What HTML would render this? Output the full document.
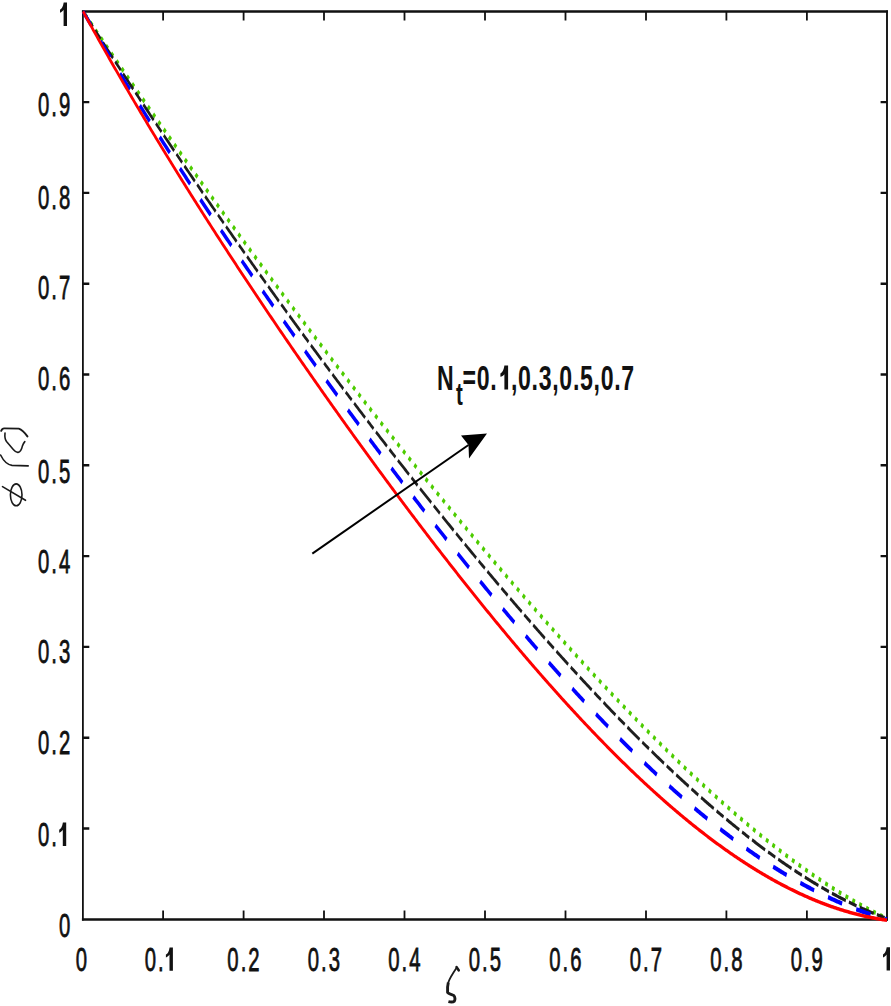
<!DOCTYPE html>
<html><head><meta charset="utf-8"><style>
html,body{margin:0;padding:0;background:#fff;width:891px;height:1006px;overflow:hidden}
svg{display:block}
text{font-family:"Liberation Sans",sans-serif;font-weight:normal;fill:#111}
.b text{font-weight:bold}
.t text{stroke:#111;stroke-width:0.8px}
.lab{font-family:"Liberation Serif",serif;font-style:italic;font-weight:normal}
</style></head><body>
<svg width="891" height="1006" viewBox="0 0 891 1006">
<rect width="891" height="1006" fill="#fff"/>
<g fill="none" stroke="#111" stroke-width="2">
<path d="M81.9 11.6H888M81.9 919.4H888" stroke-width="2.5"/>
<path d="M82.9 10.4V920.6" stroke-width="1.8"/>
<path d="M887 10.4V920.6" stroke-width="1.9"/>
<path d="M163.1 919.4V910.5M163.1 11.6V20.4M243.6 919.4V910.5M243.6 11.6V20.4M324.0 919.4V910.5M324.0 11.6V20.4M404.5 919.4V910.5M404.5 11.6V20.4M485.0 919.4V910.5M485.0 11.6V20.4M565.5 919.4V910.5M565.5 11.6V20.4M646.0 919.4V910.5M646.0 11.6V20.4M726.4 919.4V910.5M726.4 11.6V20.4M806.9 919.4V910.5M806.9 11.6V20.4" stroke-width="1.8"/>
<path d="M82.9 828.5H89.3M887 828.5H880.6M82.9 737.7H89.3M887 737.7H880.6M82.9 646.9H89.3M887 646.9H880.6M82.9 556.1H89.3M887 556.1H880.6M82.9 465.3H89.3M887 465.3H880.6M82.9 374.5H89.3M887 374.5H880.6M82.9 283.7H89.3M887 283.7H880.6M82.9 192.9H89.3M887 192.9H880.6M82.9 102.1H89.3M887 102.1H880.6" stroke-width="2.4"/>
</g>
<g fill="none" stroke-linejoin="round" transform="translate(83,0) scale(0.68,1)">
<path d="M0.00 11.40 L1.47 12.89 L2.94 14.37 L4.41 15.86 L5.88 17.35 L7.35 18.83 L8.82 20.32 L10.29 21.80 L11.76 23.28 L13.24 24.77 L14.71 26.25 L16.18 27.73 L17.65 29.21 L19.12 30.69 L20.59 32.17 L22.06 33.64 L23.53 35.12 L25.00 36.60 L26.47 38.07 L27.94 39.55 L29.41 41.02 L30.88 42.50 L32.35 43.97 L33.82 45.44 L35.29 46.91 L36.76 48.39 L38.24 49.86 L39.71 51.33 L41.18 52.79 L42.65 54.26 L44.12 55.73 L45.59 57.20 L47.06 58.66 L48.53 60.13 L50.00 61.59 L51.47 63.05 L52.94 64.52 L54.41 65.98 L55.88 67.44 L57.35 68.90 L58.82 70.36 L60.29 71.82 L61.76 73.28 L63.24 74.74 L64.71 76.19 L66.18 77.65 L67.65 79.11 L69.12 80.56 L70.59 82.02 L72.06 83.47 L73.53 84.92 L75.00 86.37 L76.47 87.82 L77.94 89.28 L79.41 90.73 L80.88 92.17 L82.35 93.62 L83.82 95.07 L85.29 96.52 L86.76 97.96 L88.24 99.41 L89.71 100.85 L91.18 102.30 L92.65 103.74 L94.12 105.18 L95.59 106.63 L97.06 108.07 L98.53 109.51 L100.00 110.95 L101.47 112.39 L102.94 113.82 L104.41 115.26 L105.88 116.70 L107.35 118.13 L108.82 119.57 L110.29 121.00 L111.76 122.44 L113.24 123.87 L114.71 125.30 L116.18 126.73 L117.65 128.17 L119.12 129.60 L120.59 131.02 L122.06 132.45 L123.53 133.88 L125.00 135.31 L126.47 136.74 L127.94 138.16 L129.41 139.59 L130.88 141.01 L132.35 142.43 L133.82 143.86 L135.29 145.28 L136.76 146.70 L138.24 148.12 L139.71 149.54 L141.18 150.96 L142.65 152.38 L144.12 153.80 L145.59 155.21 L147.06 156.63 L148.53 158.05 L150.00 159.46 L151.47 160.87 L152.94 162.29 L154.41 163.70 L155.88 165.11 L157.35 166.52 L158.82 167.93 L160.29 169.34 L161.76 170.75 L163.24 172.16 L164.71 173.57 L166.18 174.98 L167.65 176.38 L169.12 177.79 L170.59 179.19 L172.06 180.60 L173.53 182.00 L175.00 183.40 L176.47 184.80 L177.94 186.20 L179.41 187.60 L180.88 189.00 L182.35 190.40 L183.82 191.80 L185.29 193.20 L186.76 194.60 L188.24 195.99 L189.71 197.39 L191.18 198.78 L192.65 200.17 L194.12 201.57 L195.59 202.96 L197.06 204.35 L198.53 205.74 L200.00 207.13 L201.47 208.52 L202.94 209.91 L204.41 211.30 L205.88 212.69 L207.35 214.07 L208.82 215.46 L210.29 216.84 L211.76 218.23 L213.24 219.61 L214.71 220.99 L216.18 222.38 L217.65 223.76 L219.12 225.14 L220.59 226.52 L222.06 227.90 L223.53 229.28 L225.00 230.65 L226.47 232.03 L227.94 233.41 L229.41 234.78 L230.88 236.16 L232.35 237.53 L233.82 238.90 L235.29 240.28 L236.76 241.65 L238.24 243.02 L239.71 244.39 L241.18 245.76 L242.65 247.13 L244.12 248.50 L245.59 249.87 L247.06 251.23 L248.53 252.60 L250.00 253.97 L251.47 255.33 L252.94 256.69 L254.41 258.06 L255.88 259.42 L257.35 260.78 L258.82 262.14 L260.29 263.50 L261.76 264.86 L263.24 266.22 L264.71 267.58 L266.18 268.94 L267.65 270.29 L269.12 271.65 L270.59 273.01 L272.06 274.36 L273.53 275.71 L275.00 277.07 L276.47 278.42 L277.94 279.77 L279.41 281.12 L280.88 282.47 L282.35 283.82 L283.82 285.17 L285.29 286.52 L286.76 287.87 L288.24 289.21 L289.71 290.56 L291.18 291.91 L292.65 293.25 L294.12 294.59 L295.59 295.94 L297.06 297.28 L298.53 298.62 L300.00 299.96 L301.47 301.30 L302.94 302.64 L304.41 303.98 L305.88 305.32 L307.35 306.66 L308.82 307.99 L310.29 309.33 L311.76 310.66 L313.24 312.00 L314.71 313.33 L316.18 314.66 L317.65 316.00 L319.12 317.33 L320.59 318.66 L322.06 319.99 L323.53 321.32 L325.00 322.65 L326.47 323.97 L327.94 325.30 L329.41 326.63 L330.88 327.95 L332.35 329.28 L333.82 330.60 L335.29 331.93 L336.76 333.25 L338.24 334.57 L339.71 335.89 L341.18 337.21 L342.65 338.53 L344.12 339.85 L345.59 341.17 L347.06 342.49 L348.53 343.81 L350.00 345.12 L351.47 346.44 L352.94 347.75 L354.41 349.07 L355.88 350.38 L357.35 351.69 L358.82 353.01 L360.29 354.32 L361.76 355.63 L363.24 356.94 L364.71 358.25 L366.18 359.56 L367.65 360.86 L369.12 362.17 L370.59 363.48 L372.06 364.78 L373.53 366.09 L375.00 367.39 L376.47 368.69 L377.94 370.00 L379.41 371.30 L380.88 372.60 L382.35 373.90 L383.82 375.20 L385.29 376.50 L386.76 377.80 L388.24 379.09 L389.71 380.39 L391.18 381.69 L392.65 382.98 L394.12 384.28 L395.59 385.57 L397.06 386.86 L398.53 388.16 L400.00 389.45 L401.47 390.74 L402.94 392.03 L404.41 393.32 L405.88 394.61 L407.35 395.89 L408.82 397.18 L410.29 398.47 L411.76 399.75 L413.24 401.04 L414.71 402.32 L416.18 403.61 L417.65 404.89 L419.12 406.17 L420.59 407.45 L422.06 408.73 L423.53 410.01 L425.00 411.29 L426.47 412.57 L427.94 413.85 L429.41 415.13 L430.88 416.40 L432.35 417.68 L433.82 418.95 L435.29 420.23 L436.76 421.50 L438.24 422.77 L439.71 424.04 L441.18 425.31 L442.65 426.58 L444.12 427.85 L445.59 429.12 L447.06 430.39 L448.53 431.66 L450.00 432.92 L451.47 434.19 L452.94 435.45 L454.41 436.72 L455.88 437.98 L457.35 439.24 L458.82 440.51 L460.29 441.77 L461.76 443.03 L463.24 444.29 L464.71 445.55 L466.18 446.80 L467.65 448.06 L469.12 449.32 L470.59 450.57 L472.06 451.83 L473.53 453.08 L475.00 454.34 L476.47 455.59 L477.94 456.84 L479.41 458.09 L480.88 459.34 L482.35 460.59 L483.82 461.84 L485.29 463.09 L486.76 464.34 L488.24 465.59 L489.71 466.83 L491.18 468.08 L492.65 469.32 L494.12 470.56 L495.59 471.81 L497.06 473.05 L498.53 474.29 L500.00 475.53 L501.47 476.77 L502.94 478.01 L504.41 479.25 L505.88 480.49 L507.35 481.72 L508.82 482.96 L510.29 484.19 L511.76 485.43 L513.24 486.66 L514.71 487.89 L516.18 489.12 L517.65 490.36 L519.12 491.59 L520.59 492.82 L522.06 494.04 L523.53 495.27 L525.00 496.50 L526.47 497.73 L527.94 498.95 L529.41 500.18 L530.88 501.40 L532.35 502.62 L533.82 503.85 L535.29 505.07 L536.76 506.29 L538.24 507.51 L539.71 508.73 L541.18 509.94 L542.65 511.16 L544.12 512.38 L545.59 513.59 L547.06 514.81 L548.53 516.02 L550.00 517.24 L551.47 518.45 L552.94 519.66 L554.41 520.87 L555.88 522.08 L557.35 523.29 L558.82 524.50 L560.29 525.71 L561.76 526.92 L563.24 528.12 L564.71 529.33 L566.18 530.53 L567.65 531.73 L569.12 532.94 L570.59 534.14 L572.06 535.34 L573.53 536.54 L575.00 537.74 L576.47 538.94 L577.94 540.13 L579.41 541.33 L580.88 542.53 L582.35 543.72 L583.82 544.92 L585.29 546.11 L586.76 547.30 L588.24 548.49 L589.71 549.68 L591.18 550.87 L592.65 552.06 L594.12 553.25 L595.59 554.44 L597.06 555.63 L598.53 556.81 L600.00 558.00 L601.47 559.18 L602.94 560.36 L604.41 561.54 L605.88 562.73 L607.35 563.91 L608.82 565.09 L610.29 566.26 L611.76 567.44 L613.24 568.62 L614.71 569.79 L616.18 570.97 L617.65 572.14 L619.12 573.32 L620.59 574.49 L622.06 575.66 L623.53 576.83 L625.00 578.00 L626.47 579.17 L627.94 580.34 L629.41 581.50 L630.88 582.67 L632.35 583.83 L633.82 585.00 L635.29 586.16 L636.76 587.32 L638.24 588.48 L639.71 589.64 L641.18 590.80 L642.65 591.96 L644.12 593.12 L645.59 594.28 L647.06 595.43 L648.53 596.59 L650.00 597.74 L651.47 598.89 L652.94 600.04 L654.41 601.20 L655.88 602.35 L657.35 603.49 L658.82 604.64 L660.29 605.79 L661.76 606.94 L663.24 608.08 L664.71 609.22 L666.18 610.37 L667.65 611.51 L669.12 612.65 L670.59 613.79 L672.06 614.93 L673.53 616.07 L675.00 617.21 L676.47 618.34 L677.94 619.48 L679.41 620.61 L680.88 621.75 L682.35 622.88 L683.82 624.01 L685.29 625.14 L686.76 626.27 L688.24 627.40 L689.71 628.52 L691.18 629.65 L692.65 630.78 L694.12 631.90 L695.59 633.02 L697.06 634.14 L698.53 635.27 L700.00 636.39 L701.47 637.50 L702.94 638.62 L704.41 639.74 L705.88 640.86 L707.35 641.97 L708.82 643.08 L710.29 644.20 L711.76 645.31 L713.24 646.42 L714.71 647.53 L716.18 648.64 L717.65 649.74 L719.12 650.85 L720.59 651.95 L722.06 653.06 L723.53 654.16 L725.00 655.26 L726.47 656.36 L727.94 657.46 L729.41 658.56 L730.88 659.66 L732.35 660.76 L733.82 661.85 L735.29 662.95 L736.76 664.04 L738.24 665.13 L739.71 666.22 L741.18 667.31 L742.65 668.40 L744.12 669.49 L745.59 670.57 L747.06 671.66 L748.53 672.74 L750.00 673.82 L751.47 674.91 L752.94 675.99 L754.41 677.06 L755.88 678.14 L757.35 679.22 L758.82 680.30 L760.29 681.37 L761.76 682.44 L763.24 683.52 L764.71 684.59 L766.18 685.66 L767.65 686.72 L769.12 687.79 L770.59 688.86 L772.06 689.92 L773.53 690.99 L775.00 692.05 L776.47 693.11 L777.94 694.17 L779.41 695.23 L780.88 696.29 L782.35 697.34 L783.82 698.40 L785.29 699.45 L786.76 700.50 L788.24 701.56 L789.71 702.61 L791.18 703.66 L792.65 704.70 L794.12 705.75 L795.59 706.79 L797.06 707.84 L798.53 708.88 L800.00 709.92 L801.47 710.96 L802.94 712.00 L804.41 713.04 L805.88 714.07 L807.35 715.11 L808.82 716.14 L810.29 717.17 L811.76 718.20 L813.24 719.23 L814.71 720.26 L816.18 721.29 L817.65 722.31 L819.12 723.34 L820.59 724.36 L822.06 725.38 L823.53 726.40 L825.00 727.42 L826.47 728.43 L827.94 729.45 L829.41 730.46 L830.88 731.48 L832.35 732.49 L833.82 733.50 L835.29 734.51 L836.76 735.51 L838.24 736.52 L839.71 737.52 L841.18 738.53 L842.65 739.53 L844.12 740.53 L845.59 741.53 L847.06 742.53 L848.53 743.52 L850.00 744.52 L851.47 745.51 L852.94 746.50 L854.41 747.49 L855.88 748.48 L857.35 749.47 L858.82 750.45 L860.29 751.43 L861.76 752.42 L863.24 753.40 L864.71 754.38 L866.18 755.36 L867.65 756.33 L869.12 757.31 L870.59 758.28 L872.06 759.25 L873.53 760.22 L875.00 761.19 L876.47 762.16 L877.94 763.12 L879.41 764.09 L880.88 765.05 L882.35 766.01 L883.82 766.97 L885.29 767.93 L886.76 768.88 L888.24 769.84 L889.71 770.79 L891.18 771.74 L892.65 772.69 L894.12 773.64 L895.59 774.59 L897.06 775.53 L898.53 776.47 L900.00 777.42 L901.47 778.36 L902.94 779.29 L904.41 780.23 L905.88 781.16 L907.35 782.10 L908.82 783.03 L910.29 783.96 L911.76 784.89 L913.24 785.81 L914.71 786.74 L916.18 787.66 L917.65 788.58 L919.12 789.50 L920.59 790.42 L922.06 791.33 L923.53 792.25 L925.00 793.16 L926.47 794.07 L927.94 794.98 L929.41 795.89 L930.88 796.79 L932.35 797.70 L933.82 798.60 L935.29 799.50 L936.76 800.40 L938.24 801.29 L939.71 802.19 L941.18 803.08 L942.65 803.97 L944.12 804.86 L945.59 805.74 L947.06 806.63 L948.53 807.51 L950.00 808.39 L951.47 809.27 L952.94 810.15 L954.41 811.03 L955.88 811.90 L957.35 812.77 L958.82 813.64 L960.29 814.51 L961.76 815.38 L963.24 816.24 L964.71 817.10 L966.18 817.96 L967.65 818.82 L969.12 819.68 L970.59 820.53 L972.06 821.39 L973.53 822.24 L975.00 823.08 L976.47 823.93 L977.94 824.77 L979.41 825.62 L980.88 826.46 L982.35 827.30 L983.82 828.13 L985.29 828.97 L986.76 829.80 L988.24 830.63 L989.71 831.46 L991.18 832.28 L992.65 833.11 L994.12 833.93 L995.59 834.75 L997.06 835.56 L998.53 836.38 L1000.00 837.19 L1001.47 838.00 L1002.94 838.81 L1004.41 839.62 L1005.88 840.42 L1007.35 841.23 L1008.82 842.03 L1010.29 842.82 L1011.76 843.62 L1013.24 844.41 L1014.71 845.20 L1016.18 845.99 L1017.65 846.78 L1019.12 847.56 L1020.59 848.35 L1022.06 849.13 L1023.53 849.90 L1025.00 850.68 L1026.47 851.45 L1027.94 852.22 L1029.41 852.99 L1030.88 853.76 L1032.35 854.52 L1033.82 855.29 L1035.29 856.04 L1036.76 856.80 L1038.24 857.56 L1039.71 858.31 L1041.18 859.06 L1042.65 859.81 L1044.12 860.55 L1045.59 861.29 L1047.06 862.03 L1048.53 862.77 L1050.00 863.51 L1051.47 864.24 L1052.94 864.97 L1054.41 865.70 L1055.88 866.42 L1057.35 867.15 L1058.82 867.87 L1060.29 868.59 L1061.76 869.30 L1063.24 870.02 L1064.71 870.73 L1066.18 871.43 L1067.65 872.14 L1069.12 872.84 L1070.59 873.54 L1072.06 874.24 L1073.53 874.94 L1075.00 875.63 L1076.47 876.32 L1077.94 877.01 L1079.41 877.69 L1080.88 878.37 L1082.35 879.05 L1083.82 879.73 L1085.29 880.41 L1086.76 881.08 L1088.24 881.75 L1089.71 882.41 L1091.18 883.08 L1092.65 883.74 L1094.12 884.40 L1095.59 885.05 L1097.06 885.70 L1098.53 886.35 L1100.00 887.00 L1101.47 887.64 L1102.94 888.29 L1104.41 888.93 L1105.88 889.56 L1107.35 890.19 L1108.82 890.82 L1110.29 891.45 L1111.76 892.08 L1113.24 892.70 L1114.71 893.32 L1116.18 893.93 L1117.65 894.55 L1119.12 895.16 L1120.59 895.77 L1122.06 896.37 L1123.53 896.97 L1125.00 897.57 L1126.47 898.17 L1127.94 898.76 L1129.41 899.35 L1130.88 899.93 L1132.35 900.52 L1133.82 901.10 L1135.29 901.68 L1136.76 902.25 L1138.24 902.82 L1139.71 903.39 L1141.18 903.96 L1142.65 904.52 L1144.12 905.08 L1145.59 905.64 L1147.06 906.19 L1148.53 906.74 L1150.00 907.29 L1151.47 907.83 L1152.94 908.37 L1154.41 908.91 L1155.88 909.44 L1157.35 909.97 L1158.82 910.50 L1160.29 911.03 L1161.76 911.55 L1163.24 912.07 L1164.71 912.58 L1166.18 913.09 L1167.65 913.60 L1169.12 914.11 L1170.59 914.61 L1172.06 915.11 L1173.53 915.60 L1175.00 916.09 L1176.47 916.58 L1177.94 917.07 L1179.41 917.55 L1180.88 918.03 L1182.35 918.50" stroke="rgb(77,204,0)" stroke-width="4.3" stroke-dasharray="4.2 6.64" stroke-dashoffset="6.34"/>
<path d="M0.00 11.40 L1.47 12.97 L2.94 14.54 L4.41 16.11 L5.88 17.68 L7.35 19.25 L8.82 20.82 L10.29 22.39 L11.76 23.95 L13.24 25.52 L14.71 27.08 L16.18 28.64 L17.65 30.20 L19.12 31.76 L20.59 33.32 L22.06 34.88 L23.53 36.44 L25.00 38.00 L26.47 39.55 L27.94 41.11 L29.41 42.66 L30.88 44.21 L32.35 45.76 L33.82 47.32 L35.29 48.86 L36.76 50.41 L38.24 51.96 L39.71 53.51 L41.18 55.05 L42.65 56.60 L44.12 58.14 L45.59 59.68 L47.06 61.23 L48.53 62.77 L50.00 64.31 L51.47 65.85 L52.94 67.38 L54.41 68.92 L55.88 70.46 L57.35 71.99 L58.82 73.52 L60.29 75.06 L61.76 76.59 L63.24 78.12 L64.71 79.65 L66.18 81.18 L67.65 82.71 L69.12 84.23 L70.59 85.76 L72.06 87.29 L73.53 88.81 L75.00 90.33 L76.47 91.85 L77.94 93.38 L79.41 94.90 L80.88 96.42 L82.35 97.93 L83.82 99.45 L85.29 100.97 L86.76 102.48 L88.24 104.00 L89.71 105.51 L91.18 107.02 L92.65 108.53 L94.12 110.05 L95.59 111.55 L97.06 113.06 L98.53 114.57 L100.00 116.08 L101.47 117.58 L102.94 119.09 L104.41 120.59 L105.88 122.10 L107.35 123.60 L108.82 125.10 L110.29 126.60 L111.76 128.10 L113.24 129.60 L114.71 131.09 L116.18 132.59 L117.65 134.09 L119.12 135.58 L120.59 137.07 L122.06 138.57 L123.53 140.06 L125.00 141.55 L126.47 143.04 L127.94 144.53 L129.41 146.01 L130.88 147.50 L132.35 148.99 L133.82 150.47 L135.29 151.96 L136.76 153.44 L138.24 154.92 L139.71 156.40 L141.18 157.88 L142.65 159.36 L144.12 160.84 L145.59 162.32 L147.06 163.79 L148.53 165.27 L150.00 166.75 L151.47 168.22 L152.94 169.69 L154.41 171.16 L155.88 172.63 L157.35 174.11 L158.82 175.57 L160.29 177.04 L161.76 178.51 L163.24 179.98 L164.71 181.44 L166.18 182.91 L167.65 184.37 L169.12 185.83 L170.59 187.29 L172.06 188.75 L173.53 190.21 L175.00 191.67 L176.47 193.13 L177.94 194.59 L179.41 196.05 L180.88 197.50 L182.35 198.96 L183.82 200.41 L185.29 201.86 L186.76 203.31 L188.24 204.76 L189.71 206.21 L191.18 207.66 L192.65 209.11 L194.12 210.56 L195.59 212.00 L197.06 213.45 L198.53 214.89 L200.00 216.34 L201.47 217.78 L202.94 219.22 L204.41 220.66 L205.88 222.10 L207.35 223.54 L208.82 224.98 L210.29 226.42 L211.76 227.85 L213.24 229.29 L214.71 230.72 L216.18 232.16 L217.65 233.59 L219.12 235.02 L220.59 236.45 L222.06 237.88 L223.53 239.31 L225.00 240.74 L226.47 242.17 L227.94 243.59 L229.41 245.02 L230.88 246.44 L232.35 247.87 L233.82 249.29 L235.29 250.71 L236.76 252.13 L238.24 253.55 L239.71 254.97 L241.18 256.39 L242.65 257.81 L244.12 259.22 L245.59 260.64 L247.06 262.05 L248.53 263.47 L250.00 264.88 L251.47 266.29 L252.94 267.70 L254.41 269.11 L255.88 270.52 L257.35 271.93 L258.82 273.34 L260.29 274.74 L261.76 276.15 L263.24 277.56 L264.71 278.96 L266.18 280.36 L267.65 281.77 L269.12 283.17 L270.59 284.57 L272.06 285.97 L273.53 287.37 L275.00 288.76 L276.47 290.16 L277.94 291.56 L279.41 292.95 L280.88 294.35 L282.35 295.74 L283.82 297.13 L285.29 298.52 L286.76 299.91 L288.24 301.30 L289.71 302.69 L291.18 304.08 L292.65 305.47 L294.12 306.85 L295.59 308.24 L297.06 309.62 L298.53 311.01 L300.00 312.39 L301.47 313.77 L302.94 315.15 L304.41 316.53 L305.88 317.91 L307.35 319.29 L308.82 320.67 L310.29 322.05 L311.76 323.42 L313.24 324.80 L314.71 326.17 L316.18 327.54 L317.65 328.92 L319.12 330.29 L320.59 331.66 L322.06 333.03 L323.53 334.40 L325.00 335.77 L326.47 337.13 L327.94 338.50 L329.41 339.86 L330.88 341.23 L332.35 342.59 L333.82 343.95 L335.29 345.32 L336.76 346.68 L338.24 348.04 L339.71 349.40 L341.18 350.75 L342.65 352.11 L344.12 353.47 L345.59 354.82 L347.06 356.18 L348.53 357.53 L350.00 358.89 L351.47 360.24 L352.94 361.59 L354.41 362.94 L355.88 364.29 L357.35 365.64 L358.82 366.99 L360.29 368.33 L361.76 369.68 L363.24 371.02 L364.71 372.37 L366.18 373.71 L367.65 375.05 L369.12 376.39 L370.59 377.74 L372.06 379.08 L373.53 380.41 L375.00 381.75 L376.47 383.09 L377.94 384.43 L379.41 385.76 L380.88 387.10 L382.35 388.43 L383.82 389.76 L385.29 391.09 L386.76 392.42 L388.24 393.75 L389.71 395.08 L391.18 396.41 L392.65 397.74 L394.12 399.07 L395.59 400.39 L397.06 401.72 L398.53 403.04 L400.00 404.36 L401.47 405.69 L402.94 407.01 L404.41 408.33 L405.88 409.65 L407.35 410.97 L408.82 412.28 L410.29 413.60 L411.76 414.92 L413.24 416.23 L414.71 417.54 L416.18 418.86 L417.65 420.17 L419.12 421.48 L420.59 422.79 L422.06 424.10 L423.53 425.41 L425.00 426.72 L426.47 428.03 L427.94 429.33 L429.41 430.64 L430.88 431.94 L432.35 433.24 L433.82 434.55 L435.29 435.85 L436.76 437.15 L438.24 438.45 L439.71 439.75 L441.18 441.05 L442.65 442.34 L444.12 443.64 L445.59 444.93 L447.06 446.23 L448.53 447.52 L450.00 448.81 L451.47 450.11 L452.94 451.40 L454.41 452.69 L455.88 453.97 L457.35 455.26 L458.82 456.55 L460.29 457.84 L461.76 459.12 L463.24 460.41 L464.71 461.69 L466.18 462.97 L467.65 464.25 L469.12 465.53 L470.59 466.81 L472.06 468.09 L473.53 469.37 L475.00 470.65 L476.47 471.92 L477.94 473.20 L479.41 474.47 L480.88 475.75 L482.35 477.02 L483.82 478.29 L485.29 479.56 L486.76 480.83 L488.24 482.10 L489.71 483.37 L491.18 484.63 L492.65 485.90 L494.12 487.16 L495.59 488.43 L497.06 489.69 L498.53 490.95 L500.00 492.21 L501.47 493.47 L502.94 494.73 L504.41 495.99 L505.88 497.25 L507.35 498.50 L508.82 499.76 L510.29 501.01 L511.76 502.27 L513.24 503.52 L514.71 504.77 L516.18 506.02 L517.65 507.27 L519.12 508.52 L520.59 509.77 L522.06 511.01 L523.53 512.26 L525.00 513.50 L526.47 514.75 L527.94 515.99 L529.41 517.23 L530.88 518.47 L532.35 519.71 L533.82 520.95 L535.29 522.19 L536.76 523.43 L538.24 524.66 L539.71 525.90 L541.18 527.13 L542.65 528.37 L544.12 529.60 L545.59 530.83 L547.06 532.06 L548.53 533.29 L550.00 534.52 L551.47 535.74 L552.94 536.97 L554.41 538.19 L555.88 539.42 L557.35 540.64 L558.82 541.86 L560.29 543.09 L561.76 544.31 L563.24 545.52 L564.71 546.74 L566.18 547.96 L567.65 549.18 L569.12 550.39 L570.59 551.60 L572.06 552.82 L573.53 554.03 L575.00 555.24 L576.47 556.45 L577.94 557.66 L579.41 558.87 L580.88 560.07 L582.35 561.28 L583.82 562.48 L585.29 563.69 L586.76 564.89 L588.24 566.09 L589.71 567.29 L591.18 568.49 L592.65 569.69 L594.12 570.89 L595.59 572.08 L597.06 573.28 L598.53 574.47 L600.00 575.67 L601.47 576.86 L602.94 578.05 L604.41 579.24 L605.88 580.43 L607.35 581.62 L608.82 582.80 L610.29 583.99 L611.76 585.17 L613.24 586.36 L614.71 587.54 L616.18 588.72 L617.65 589.90 L619.12 591.08 L620.59 592.26 L622.06 593.43 L623.53 594.61 L625.00 595.78 L626.47 596.96 L627.94 598.13 L629.41 599.30 L630.88 600.47 L632.35 601.64 L633.82 602.81 L635.29 603.97 L636.76 605.14 L638.24 606.31 L639.71 607.47 L641.18 608.63 L642.65 609.79 L644.12 610.95 L645.59 612.11 L647.06 613.27 L648.53 614.43 L650.00 615.58 L651.47 616.73 L652.94 617.89 L654.41 619.04 L655.88 620.19 L657.35 621.34 L658.82 622.49 L660.29 623.64 L661.76 624.78 L663.24 625.93 L664.71 627.07 L666.18 628.21 L667.65 629.35 L669.12 630.49 L670.59 631.63 L672.06 632.77 L673.53 633.91 L675.00 635.04 L676.47 636.18 L677.94 637.31 L679.41 638.44 L680.88 639.57 L682.35 640.70 L683.82 641.83 L685.29 642.96 L686.76 644.08 L688.24 645.21 L689.71 646.33 L691.18 647.45 L692.65 648.57 L694.12 649.69 L695.59 650.81 L697.06 651.92 L698.53 653.04 L700.00 654.15 L701.47 655.27 L702.94 656.38 L704.41 657.49 L705.88 658.60 L707.35 659.71 L708.82 660.81 L710.29 661.92 L711.76 663.02 L713.24 664.13 L714.71 665.23 L716.18 666.33 L717.65 667.43 L719.12 668.52 L720.59 669.62 L722.06 670.71 L723.53 671.81 L725.00 672.90 L726.47 673.99 L727.94 675.08 L729.41 676.17 L730.88 677.26 L732.35 678.34 L733.82 679.42 L735.29 680.51 L736.76 681.59 L738.24 682.67 L739.71 683.75 L741.18 684.82 L742.65 685.90 L744.12 686.98 L745.59 688.05 L747.06 689.12 L748.53 690.19 L750.00 691.26 L751.47 692.33 L752.94 693.39 L754.41 694.46 L755.88 695.52 L757.35 696.58 L758.82 697.64 L760.29 698.70 L761.76 699.76 L763.24 700.82 L764.71 701.87 L766.18 702.92 L767.65 703.98 L769.12 705.03 L770.59 706.08 L772.06 707.12 L773.53 708.17 L775.00 709.21 L776.47 710.26 L777.94 711.30 L779.41 712.34 L780.88 713.38 L782.35 714.41 L783.82 715.45 L785.29 716.48 L786.76 717.52 L788.24 718.55 L789.71 719.58 L791.18 720.60 L792.65 721.63 L794.12 722.65 L795.59 723.68 L797.06 724.70 L798.53 725.72 L800.00 726.74 L801.47 727.76 L802.94 728.77 L804.41 729.78 L805.88 730.80 L807.35 731.81 L808.82 732.82 L810.29 733.82 L811.76 734.83 L813.24 735.83 L814.71 736.84 L816.18 737.84 L817.65 738.84 L819.12 739.84 L820.59 740.83 L822.06 741.83 L823.53 742.82 L825.00 743.81 L826.47 744.80 L827.94 745.79 L829.41 746.78 L830.88 747.76 L832.35 748.74 L833.82 749.72 L835.29 750.70 L836.76 751.68 L838.24 752.66 L839.71 753.63 L841.18 754.60 L842.65 755.58 L844.12 756.55 L845.59 757.51 L847.06 758.48 L848.53 759.44 L850.00 760.41 L851.47 761.37 L852.94 762.32 L854.41 763.28 L855.88 764.24 L857.35 765.19 L858.82 766.14 L860.29 767.09 L861.76 768.04 L863.24 768.99 L864.71 769.93 L866.18 770.87 L867.65 771.82 L869.12 772.75 L870.59 773.69 L872.06 774.63 L873.53 775.56 L875.00 776.49 L876.47 777.42 L877.94 778.35 L879.41 779.28 L880.88 780.20 L882.35 781.12 L883.82 782.04 L885.29 782.96 L886.76 783.88 L888.24 784.79 L889.71 785.71 L891.18 786.62 L892.65 787.53 L894.12 788.43 L895.59 789.34 L897.06 790.24 L898.53 791.14 L900.00 792.04 L901.47 792.94 L902.94 793.83 L904.41 794.73 L905.88 795.62 L907.35 796.51 L908.82 797.40 L910.29 798.28 L911.76 799.16 L913.24 800.05 L914.71 800.93 L916.18 801.80 L917.65 802.68 L919.12 803.55 L920.59 804.42 L922.06 805.29 L923.53 806.16 L925.00 807.02 L926.47 807.89 L927.94 808.75 L929.41 809.60 L930.88 810.46 L932.35 811.31 L933.82 812.17 L935.29 813.02 L936.76 813.86 L938.24 814.71 L939.71 815.55 L941.18 816.40 L942.65 817.23 L944.12 818.07 L945.59 818.91 L947.06 819.74 L948.53 820.57 L950.00 821.40 L951.47 822.22 L952.94 823.05 L954.41 823.87 L955.88 824.69 L957.35 825.51 L958.82 826.32 L960.29 827.13 L961.76 827.94 L963.24 828.75 L964.71 829.56 L966.18 830.36 L967.65 831.16 L969.12 831.96 L970.59 832.76 L972.06 833.55 L973.53 834.34 L975.00 835.13 L976.47 835.92 L977.94 836.70 L979.41 837.49 L980.88 838.27 L982.35 839.04 L983.82 839.82 L985.29 840.59 L986.76 841.36 L988.24 842.13 L989.71 842.90 L991.18 843.66 L992.65 844.42 L994.12 845.18 L995.59 845.93 L997.06 846.69 L998.53 847.44 L1000.00 848.19 L1001.47 848.93 L1002.94 849.67 L1004.41 850.42 L1005.88 851.15 L1007.35 851.89 L1008.82 852.62 L1010.29 853.35 L1011.76 854.08 L1013.24 854.81 L1014.71 855.53 L1016.18 856.25 L1017.65 856.97 L1019.12 857.68 L1020.59 858.39 L1022.06 859.10 L1023.53 859.81 L1025.00 860.52 L1026.47 861.22 L1027.94 861.92 L1029.41 862.61 L1030.88 863.31 L1032.35 864.00 L1033.82 864.69 L1035.29 865.37 L1036.76 866.06 L1038.24 866.74 L1039.71 867.41 L1041.18 868.09 L1042.65 868.76 L1044.12 869.43 L1045.59 870.10 L1047.06 870.76 L1048.53 871.42 L1050.00 872.08 L1051.47 872.74 L1052.94 873.39 L1054.41 874.04 L1055.88 874.68 L1057.35 875.33 L1058.82 875.97 L1060.29 876.61 L1061.76 877.24 L1063.24 877.88 L1064.71 878.50 L1066.18 879.13 L1067.65 879.76 L1069.12 880.38 L1070.59 880.99 L1072.06 881.61 L1073.53 882.22 L1075.00 882.83 L1076.47 883.44 L1077.94 884.04 L1079.41 884.64 L1080.88 885.23 L1082.35 885.83 L1083.82 886.42 L1085.29 887.01 L1086.76 887.59 L1088.24 888.17 L1089.71 888.75 L1091.18 889.33 L1092.65 889.90 L1094.12 890.47 L1095.59 891.04 L1097.06 891.60 L1098.53 892.16 L1100.00 892.72 L1101.47 893.27 L1102.94 893.82 L1104.41 894.37 L1105.88 894.91 L1107.35 895.45 L1108.82 895.99 L1110.29 896.52 L1111.76 897.05 L1113.24 897.58 L1114.71 898.11 L1116.18 898.63 L1117.65 899.15 L1119.12 899.66 L1120.59 900.17 L1122.06 900.68 L1123.53 901.18 L1125.00 901.69 L1126.47 902.18 L1127.94 902.68 L1129.41 903.17 L1130.88 903.66 L1132.35 904.14 L1133.82 904.62 L1135.29 905.10 L1136.76 905.57 L1138.24 906.04 L1139.71 906.51 L1141.18 906.98 L1142.65 907.44 L1144.12 907.89 L1145.59 908.35 L1147.06 908.80 L1148.53 909.24 L1150.00 909.68 L1151.47 910.12 L1152.94 910.56 L1154.41 910.99 L1155.88 911.42 L1157.35 911.84 L1158.82 912.26 L1160.29 912.68 L1161.76 913.10 L1163.24 913.51 L1164.71 913.91 L1166.18 914.32 L1167.65 914.71 L1169.12 915.11 L1170.59 915.50 L1172.06 915.89 L1173.53 916.27 L1175.00 916.65 L1176.47 917.03 L1177.94 917.40 L1179.41 917.77 L1180.88 918.14 L1182.35 918.50" stroke="#1e1e1e" stroke-width="3.4" stroke-dasharray="21.7 4.75 11.85 4.75" stroke-dashoffset="0.50"/>
<path d="M0.00 11.40 L1.47 13.12 L2.94 14.84 L4.41 16.55 L5.88 18.26 L7.35 19.97 L8.82 21.68 L10.29 23.38 L11.76 25.09 L13.24 26.79 L14.71 28.48 L16.18 30.18 L17.65 31.87 L19.12 33.56 L20.59 35.25 L22.06 36.94 L23.53 38.62 L25.00 40.30 L26.47 41.98 L27.94 43.66 L29.41 45.33 L30.88 47.00 L32.35 48.67 L33.82 50.34 L35.29 52.01 L36.76 53.67 L38.24 55.33 L39.71 56.99 L41.18 58.65 L42.65 60.30 L44.12 61.96 L45.59 63.61 L47.06 65.26 L48.53 66.90 L50.00 68.55 L51.47 70.19 L52.94 71.83 L54.41 73.47 L55.88 75.10 L57.35 76.74 L58.82 78.37 L60.29 80.00 L61.76 81.63 L63.24 83.26 L64.71 84.88 L66.18 86.50 L67.65 88.12 L69.12 89.74 L70.59 91.36 L72.06 92.97 L73.53 94.59 L75.00 96.20 L76.47 97.81 L77.94 99.41 L79.41 101.02 L80.88 102.62 L82.35 104.22 L83.82 105.82 L85.29 107.42 L86.76 109.02 L88.24 110.61 L89.71 112.21 L91.18 113.80 L92.65 115.39 L94.12 116.97 L95.59 118.56 L97.06 120.14 L98.53 121.73 L100.00 123.31 L101.47 124.89 L102.94 126.46 L104.41 128.04 L105.88 129.61 L107.35 131.19 L108.82 132.76 L110.29 134.33 L111.76 135.89 L113.24 137.46 L114.71 139.02 L116.18 140.58 L117.65 142.15 L119.12 143.71 L120.59 145.26 L122.06 146.82 L123.53 148.37 L125.00 149.93 L126.47 151.48 L127.94 153.03 L129.41 154.58 L130.88 156.12 L132.35 157.67 L133.82 159.21 L135.29 160.75 L136.76 162.30 L138.24 163.84 L139.71 165.37 L141.18 166.91 L142.65 168.44 L144.12 169.98 L145.59 171.51 L147.06 173.04 L148.53 174.57 L150.00 176.10 L151.47 177.62 L152.94 179.15 L154.41 180.67 L155.88 182.20 L157.35 183.72 L158.82 185.24 L160.29 186.75 L161.76 188.27 L163.24 189.79 L164.71 191.30 L166.18 192.81 L167.65 194.32 L169.12 195.83 L170.59 197.34 L172.06 198.85 L173.53 200.36 L175.00 201.86 L176.47 203.36 L177.94 204.87 L179.41 206.37 L180.88 207.87 L182.35 209.37 L183.82 210.86 L185.29 212.36 L186.76 213.85 L188.24 215.35 L189.71 216.84 L191.18 218.33 L192.65 219.82 L194.12 221.31 L195.59 222.79 L197.06 224.28 L198.53 225.77 L200.00 227.25 L201.47 228.73 L202.94 230.21 L204.41 231.69 L205.88 233.17 L207.35 234.65 L208.82 236.13 L210.29 237.60 L211.76 239.08 L213.24 240.55 L214.71 242.02 L216.18 243.49 L217.65 244.96 L219.12 246.43 L220.59 247.90 L222.06 249.36 L223.53 250.83 L225.00 252.29 L226.47 253.76 L227.94 255.22 L229.41 256.68 L230.88 258.14 L232.35 259.60 L233.82 261.05 L235.29 262.51 L236.76 263.97 L238.24 265.42 L239.71 266.87 L241.18 268.33 L242.65 269.78 L244.12 271.23 L245.59 272.68 L247.06 274.12 L248.53 275.57 L250.00 277.02 L251.47 278.46 L252.94 279.91 L254.41 281.35 L255.88 282.79 L257.35 284.23 L258.82 285.67 L260.29 287.11 L261.76 288.55 L263.24 289.98 L264.71 291.42 L266.18 292.86 L267.65 294.29 L269.12 295.72 L270.59 297.15 L272.06 298.58 L273.53 300.01 L275.00 301.44 L276.47 302.87 L277.94 304.30 L279.41 305.72 L280.88 307.15 L282.35 308.57 L283.82 310.00 L285.29 311.42 L286.76 312.84 L288.24 314.26 L289.71 315.68 L291.18 317.10 L292.65 318.51 L294.12 319.93 L295.59 321.35 L297.06 322.76 L298.53 324.17 L300.00 325.59 L301.47 327.00 L302.94 328.41 L304.41 329.82 L305.88 331.23 L307.35 332.64 L308.82 334.04 L310.29 335.45 L311.76 336.85 L313.24 338.26 L314.71 339.66 L316.18 341.06 L317.65 342.47 L319.12 343.87 L320.59 345.27 L322.06 346.67 L323.53 348.06 L325.00 349.46 L326.47 350.86 L327.94 352.25 L329.41 353.65 L330.88 355.04 L332.35 356.43 L333.82 357.82 L335.29 359.22 L336.76 360.61 L338.24 361.99 L339.71 363.38 L341.18 364.77 L342.65 366.16 L344.12 367.54 L345.59 368.93 L347.06 370.31 L348.53 371.69 L350.00 373.08 L351.47 374.46 L352.94 375.84 L354.41 377.22 L355.88 378.59 L357.35 379.97 L358.82 381.35 L360.29 382.72 L361.76 384.10 L363.24 385.47 L364.71 386.85 L366.18 388.22 L367.65 389.59 L369.12 390.96 L370.59 392.33 L372.06 393.70 L373.53 395.07 L375.00 396.43 L376.47 397.80 L377.94 399.17 L379.41 400.53 L380.88 401.89 L382.35 403.26 L383.82 404.62 L385.29 405.98 L386.76 407.34 L388.24 408.70 L389.71 410.06 L391.18 411.41 L392.65 412.77 L394.12 414.13 L395.59 415.48 L397.06 416.84 L398.53 418.19 L400.00 419.54 L401.47 420.89 L402.94 422.24 L404.41 423.59 L405.88 424.94 L407.35 426.29 L408.82 427.64 L410.29 428.98 L411.76 430.33 L413.24 431.67 L414.71 433.01 L416.18 434.36 L417.65 435.70 L419.12 437.04 L420.59 438.38 L422.06 439.72 L423.53 441.06 L425.00 442.39 L426.47 443.73 L427.94 445.06 L429.41 446.40 L430.88 447.73 L432.35 449.07 L433.82 450.40 L435.29 451.73 L436.76 453.06 L438.24 454.39 L439.71 455.72 L441.18 457.04 L442.65 458.37 L444.12 459.69 L445.59 461.02 L447.06 462.34 L448.53 463.66 L450.00 464.99 L451.47 466.31 L452.94 467.63 L454.41 468.95 L455.88 470.26 L457.35 471.58 L458.82 472.90 L460.29 474.21 L461.76 475.53 L463.24 476.84 L464.71 478.15 L466.18 479.47 L467.65 480.78 L469.12 482.09 L470.59 483.39 L472.06 484.70 L473.53 486.01 L475.00 487.31 L476.47 488.62 L477.94 489.92 L479.41 491.23 L480.88 492.53 L482.35 493.83 L483.82 495.13 L485.29 496.43 L486.76 497.73 L488.24 499.02 L489.71 500.32 L491.18 501.62 L492.65 502.91 L494.12 504.20 L495.59 505.50 L497.06 506.79 L498.53 508.08 L500.00 509.37 L501.47 510.65 L502.94 511.94 L504.41 513.23 L505.88 514.51 L507.35 515.80 L508.82 517.08 L510.29 518.36 L511.76 519.64 L513.24 520.93 L514.71 522.20 L516.18 523.48 L517.65 524.76 L519.12 526.04 L520.59 527.31 L522.06 528.58 L523.53 529.86 L525.00 531.13 L526.47 532.40 L527.94 533.67 L529.41 534.94 L530.88 536.21 L532.35 537.47 L533.82 538.74 L535.29 540.00 L536.76 541.27 L538.24 542.53 L539.71 543.79 L541.18 545.05 L542.65 546.31 L544.12 547.57 L545.59 548.83 L547.06 550.08 L548.53 551.34 L550.00 552.59 L551.47 553.84 L552.94 555.09 L554.41 556.34 L555.88 557.59 L557.35 558.84 L558.82 560.09 L560.29 561.33 L561.76 562.58 L563.24 563.82 L564.71 565.06 L566.18 566.31 L567.65 567.55 L569.12 568.79 L570.59 570.02 L572.06 571.26 L573.53 572.50 L575.00 573.73 L576.47 574.96 L577.94 576.19 L579.41 577.43 L580.88 578.65 L582.35 579.88 L583.82 581.11 L585.29 582.34 L586.76 583.56 L588.24 584.78 L589.71 586.01 L591.18 587.23 L592.65 588.45 L594.12 589.67 L595.59 590.88 L597.06 592.10 L598.53 593.32 L600.00 594.53 L601.47 595.74 L602.94 596.95 L604.41 598.16 L605.88 599.37 L607.35 600.58 L608.82 601.78 L610.29 602.99 L611.76 604.19 L613.24 605.40 L614.71 606.60 L616.18 607.80 L617.65 608.99 L619.12 610.19 L620.59 611.39 L622.06 612.58 L623.53 613.78 L625.00 614.97 L626.47 616.16 L627.94 617.35 L629.41 618.53 L630.88 619.72 L632.35 620.91 L633.82 622.09 L635.29 623.27 L636.76 624.45 L638.24 625.63 L639.71 626.81 L641.18 627.99 L642.65 629.16 L644.12 630.34 L645.59 631.51 L647.06 632.68 L648.53 633.85 L650.00 635.02 L651.47 636.19 L652.94 637.35 L654.41 638.52 L655.88 639.68 L657.35 640.84 L658.82 642.00 L660.29 643.16 L661.76 644.32 L663.24 645.47 L664.71 646.63 L666.18 647.78 L667.65 648.93 L669.12 650.08 L670.59 651.23 L672.06 652.38 L673.53 653.52 L675.00 654.67 L676.47 655.81 L677.94 656.95 L679.41 658.09 L680.88 659.23 L682.35 660.36 L683.82 661.50 L685.29 662.63 L686.76 663.76 L688.24 664.89 L689.71 666.02 L691.18 667.15 L692.65 668.28 L694.12 669.40 L695.59 670.52 L697.06 671.64 L698.53 672.76 L700.00 673.88 L701.47 675.00 L702.94 676.11 L704.41 677.22 L705.88 678.33 L707.35 679.44 L708.82 680.55 L710.29 681.66 L711.76 682.76 L713.24 683.87 L714.71 684.97 L716.18 686.07 L717.65 687.16 L719.12 688.26 L720.59 689.36 L722.06 690.45 L723.53 691.54 L725.00 692.63 L726.47 693.72 L727.94 694.80 L729.41 695.89 L730.88 696.97 L732.35 698.05 L733.82 699.13 L735.29 700.21 L736.76 701.29 L738.24 702.36 L739.71 703.43 L741.18 704.50 L742.65 705.57 L744.12 706.64 L745.59 707.71 L747.06 708.77 L748.53 709.83 L750.00 710.89 L751.47 711.95 L752.94 713.01 L754.41 714.06 L755.88 715.11 L757.35 716.17 L758.82 717.22 L760.29 718.26 L761.76 719.31 L763.24 720.35 L764.71 721.39 L766.18 722.43 L767.65 723.47 L769.12 724.51 L770.59 725.54 L772.06 726.58 L773.53 727.61 L775.00 728.64 L776.47 729.66 L777.94 730.69 L779.41 731.71 L780.88 732.73 L782.35 733.75 L783.82 734.77 L785.29 735.78 L786.76 736.80 L788.24 737.81 L789.71 738.82 L791.18 739.83 L792.65 740.83 L794.12 741.84 L795.59 742.84 L797.06 743.84 L798.53 744.84 L800.00 745.83 L801.47 746.83 L802.94 747.82 L804.41 748.81 L805.88 749.80 L807.35 750.78 L808.82 751.77 L810.29 752.75 L811.76 753.73 L813.24 754.70 L814.71 755.68 L816.18 756.65 L817.65 757.63 L819.12 758.59 L820.59 759.56 L822.06 760.53 L823.53 761.49 L825.00 762.45 L826.47 763.41 L827.94 764.37 L829.41 765.32 L830.88 766.27 L832.35 767.22 L833.82 768.17 L835.29 769.12 L836.76 770.06 L838.24 771.01 L839.71 771.95 L841.18 772.88 L842.65 773.82 L844.12 774.75 L845.59 775.68 L847.06 776.61 L848.53 777.54 L850.00 778.46 L851.47 779.38 L852.94 780.30 L854.41 781.22 L855.88 782.14 L857.35 783.05 L858.82 783.96 L860.29 784.87 L861.76 785.78 L863.24 786.68 L864.71 787.58 L866.18 788.48 L867.65 789.38 L869.12 790.28 L870.59 791.17 L872.06 792.06 L873.53 792.95 L875.00 793.84 L876.47 794.72 L877.94 795.60 L879.41 796.48 L880.88 797.36 L882.35 798.23 L883.82 799.10 L885.29 799.97 L886.76 800.84 L888.24 801.71 L889.71 802.57 L891.18 803.43 L892.65 804.29 L894.12 805.14 L895.59 806.00 L897.06 806.85 L898.53 807.69 L900.00 808.54 L901.47 809.38 L902.94 810.22 L904.41 811.06 L905.88 811.90 L907.35 812.73 L908.82 813.56 L910.29 814.39 L911.76 815.22 L913.24 816.04 L914.71 816.87 L916.18 817.68 L917.65 818.50 L919.12 819.31 L920.59 820.13 L922.06 820.94 L923.53 821.74 L925.00 822.55 L926.47 823.35 L927.94 824.15 L929.41 824.94 L930.88 825.74 L932.35 826.53 L933.82 827.32 L935.29 828.10 L936.76 828.89 L938.24 829.67 L939.71 830.45 L941.18 831.22 L942.65 831.99 L944.12 832.77 L945.59 833.53 L947.06 834.30 L948.53 835.06 L950.00 835.82 L951.47 836.58 L952.94 837.33 L954.41 838.09 L955.88 838.84 L957.35 839.58 L958.82 840.33 L960.29 841.07 L961.76 841.81 L963.24 842.55 L964.71 843.28 L966.18 844.01 L967.65 844.74 L969.12 845.46 L970.59 846.19 L972.06 846.91 L973.53 847.62 L975.00 848.34 L976.47 849.05 L977.94 849.76 L979.41 850.47 L980.88 851.17 L982.35 851.87 L983.82 852.57 L985.29 853.27 L986.76 853.96 L988.24 854.65 L989.71 855.34 L991.18 856.02 L992.65 856.70 L994.12 857.38 L995.59 858.06 L997.06 858.73 L998.53 859.40 L1000.00 860.07 L1001.47 860.74 L1002.94 861.40 L1004.41 862.06 L1005.88 862.71 L1007.35 863.37 L1008.82 864.02 L1010.29 864.67 L1011.76 865.31 L1013.24 865.95 L1014.71 866.59 L1016.18 867.23 L1017.65 867.86 L1019.12 868.49 L1020.59 869.12 L1022.06 869.75 L1023.53 870.37 L1025.00 870.99 L1026.47 871.60 L1027.94 872.22 L1029.41 872.83 L1030.88 873.43 L1032.35 874.04 L1033.82 874.64 L1035.29 875.24 L1036.76 875.83 L1038.24 876.43 L1039.71 877.02 L1041.18 877.60 L1042.65 878.19 L1044.12 878.77 L1045.59 879.34 L1047.06 879.92 L1048.53 880.49 L1050.00 881.06 L1051.47 881.63 L1052.94 882.19 L1054.41 882.75 L1055.88 883.31 L1057.35 883.86 L1058.82 884.41 L1060.29 884.96 L1061.76 885.50 L1063.24 886.04 L1064.71 886.58 L1066.18 887.12 L1067.65 887.65 L1069.12 888.18 L1070.59 888.71 L1072.06 889.23 L1073.53 889.75 L1075.00 890.27 L1076.47 890.78 L1077.94 891.29 L1079.41 891.80 L1080.88 892.30 L1082.35 892.81 L1083.82 893.30 L1085.29 893.80 L1086.76 894.29 L1088.24 894.78 L1089.71 895.27 L1091.18 895.75 L1092.65 896.23 L1094.12 896.71 L1095.59 897.18 L1097.06 897.65 L1098.53 898.12 L1100.00 898.58 L1101.47 899.04 L1102.94 899.50 L1104.41 899.95 L1105.88 900.41 L1107.35 900.85 L1108.82 901.30 L1110.29 901.74 L1111.76 902.18 L1113.24 902.62 L1114.71 903.05 L1116.18 903.48 L1117.65 903.90 L1119.12 904.32 L1120.59 904.74 L1122.06 905.16 L1123.53 905.57 L1125.00 905.98 L1126.47 906.39 L1127.94 906.79 L1129.41 907.19 L1130.88 907.59 L1132.35 907.98 L1133.82 908.37 L1135.29 908.76 L1136.76 909.14 L1138.24 909.52 L1139.71 909.90 L1141.18 910.27 L1142.65 910.64 L1144.12 911.01 L1145.59 911.38 L1147.06 911.74 L1148.53 912.09 L1150.00 912.45 L1151.47 912.80 L1152.94 913.15 L1154.41 913.49 L1155.88 913.83 L1157.35 914.17 L1158.82 914.50 L1160.29 914.83 L1161.76 915.16 L1163.24 915.49 L1164.71 915.81 L1166.18 916.12 L1167.65 916.44 L1169.12 916.75 L1170.59 917.06 L1172.06 917.36 L1173.53 917.66 L1175.00 917.96 L1176.47 918.25 L1177.94 918.54 L1179.41 918.83 L1180.88 919.12 L1182.35 919.40" stroke="#0000ff" stroke-width="4.4" stroke-dasharray="21.7 21.5" stroke-dashoffset="3.90"/>
<path d="M0.00 11.40 L1.47 13.23 L2.94 15.05 L4.41 16.87 L5.88 18.69 L7.35 20.50 L8.82 22.31 L10.29 24.12 L11.76 25.93 L13.24 27.73 L14.71 29.53 L16.18 31.33 L17.65 33.13 L19.12 34.92 L20.59 36.71 L22.06 38.49 L23.53 40.28 L25.00 42.06 L26.47 43.84 L27.94 45.62 L29.41 47.39 L30.88 49.16 L32.35 50.93 L33.82 52.69 L35.29 54.46 L36.76 56.22 L38.24 57.98 L39.71 59.73 L41.18 61.48 L42.65 63.24 L44.12 64.98 L45.59 66.73 L47.06 68.47 L48.53 70.21 L50.00 71.95 L51.47 73.69 L52.94 75.42 L54.41 77.15 L55.88 78.88 L57.35 80.61 L58.82 82.33 L60.29 84.05 L61.76 85.77 L63.24 87.49 L64.71 89.20 L66.18 90.91 L67.65 92.62 L69.12 94.33 L70.59 96.04 L72.06 97.74 L73.53 99.44 L75.00 101.14 L76.47 102.84 L77.94 104.53 L79.41 106.22 L80.88 107.91 L82.35 109.60 L83.82 111.29 L85.29 112.97 L86.76 114.65 L88.24 116.33 L89.71 118.01 L91.18 119.68 L92.65 121.36 L94.12 123.03 L95.59 124.70 L97.06 126.36 L98.53 128.03 L100.00 129.69 L101.47 131.35 L102.94 133.01 L104.41 134.67 L105.88 136.32 L107.35 137.97 L108.82 139.63 L110.29 141.27 L111.76 142.92 L113.24 144.57 L114.71 146.21 L116.18 147.85 L117.65 149.49 L119.12 151.13 L120.59 152.76 L122.06 154.40 L123.53 156.03 L125.00 157.66 L126.47 159.29 L127.94 160.91 L129.41 162.54 L130.88 164.16 L132.35 165.78 L133.82 167.40 L135.29 169.02 L136.76 170.63 L138.24 172.25 L139.71 173.86 L141.18 175.47 L142.65 177.08 L144.12 178.68 L145.59 180.29 L147.06 181.89 L148.53 183.49 L150.00 185.09 L151.47 186.69 L152.94 188.29 L154.41 189.88 L155.88 191.48 L157.35 193.07 L158.82 194.66 L160.29 196.25 L161.76 197.83 L163.24 199.42 L164.71 201.00 L166.18 202.58 L167.65 204.16 L169.12 205.74 L170.59 207.32 L172.06 208.89 L173.53 210.47 L175.00 212.04 L176.47 213.61 L177.94 215.18 L179.41 216.75 L180.88 218.31 L182.35 219.88 L183.82 221.44 L185.29 223.00 L186.76 224.56 L188.24 226.12 L189.71 227.68 L191.18 229.23 L192.65 230.79 L194.12 232.34 L195.59 233.89 L197.06 235.44 L198.53 236.99 L200.00 238.54 L201.47 240.08 L202.94 241.63 L204.41 243.17 L205.88 244.71 L207.35 246.25 L208.82 247.79 L210.29 249.33 L211.76 250.86 L213.24 252.40 L214.71 253.93 L216.18 255.46 L217.65 256.99 L219.12 258.52 L220.59 260.05 L222.06 261.57 L223.53 263.10 L225.00 264.62 L226.47 266.14 L227.94 267.66 L229.41 269.18 L230.88 270.70 L232.35 272.22 L233.82 273.73 L235.29 275.25 L236.76 276.76 L238.24 278.27 L239.71 279.78 L241.18 281.29 L242.65 282.80 L244.12 284.30 L245.59 285.81 L247.06 287.31 L248.53 288.82 L250.00 290.32 L251.47 291.82 L252.94 293.32 L254.41 294.81 L255.88 296.31 L257.35 297.81 L258.82 299.30 L260.29 300.79 L261.76 302.28 L263.24 303.77 L264.71 305.26 L266.18 306.75 L267.65 308.24 L269.12 309.72 L270.59 311.21 L272.06 312.69 L273.53 314.17 L275.00 315.65 L276.47 317.13 L277.94 318.61 L279.41 320.09 L280.88 321.57 L282.35 323.04 L283.82 324.51 L285.29 325.99 L286.76 327.46 L288.24 328.93 L289.71 330.40 L291.18 331.87 L292.65 333.33 L294.12 334.80 L295.59 336.26 L297.06 337.73 L298.53 339.19 L300.00 340.65 L301.47 342.11 L302.94 343.57 L304.41 345.03 L305.88 346.48 L307.35 347.94 L308.82 349.39 L310.29 350.85 L311.76 352.30 L313.24 353.75 L314.71 355.20 L316.18 356.65 L317.65 358.10 L319.12 359.54 L320.59 360.99 L322.06 362.43 L323.53 363.88 L325.00 365.32 L326.47 366.76 L327.94 368.20 L329.41 369.64 L330.88 371.08 L332.35 372.51 L333.82 373.95 L335.29 375.38 L336.76 376.82 L338.24 378.25 L339.71 379.68 L341.18 381.11 L342.65 382.54 L344.12 383.97 L345.59 385.40 L347.06 386.82 L348.53 388.25 L350.00 389.67 L351.47 391.10 L352.94 392.52 L354.41 393.94 L355.88 395.36 L357.35 396.78 L358.82 398.20 L360.29 399.61 L361.76 401.03 L363.24 402.44 L364.71 403.86 L366.18 405.27 L367.65 406.68 L369.12 408.09 L370.59 409.50 L372.06 410.91 L373.53 412.31 L375.00 413.72 L376.47 415.13 L377.94 416.53 L379.41 417.93 L380.88 419.33 L382.35 420.73 L383.82 422.13 L385.29 423.53 L386.76 424.93 L388.24 426.33 L389.71 427.72 L391.18 429.12 L392.65 430.51 L394.12 431.90 L395.59 433.29 L397.06 434.69 L398.53 436.07 L400.00 437.46 L401.47 438.85 L402.94 440.24 L404.41 441.62 L405.88 443.00 L407.35 444.39 L408.82 445.77 L410.29 447.15 L411.76 448.53 L413.24 449.91 L414.71 451.29 L416.18 452.66 L417.65 454.04 L419.12 455.41 L420.59 456.79 L422.06 458.16 L423.53 459.53 L425.00 460.90 L426.47 462.27 L427.94 463.64 L429.41 465.00 L430.88 466.37 L432.35 467.73 L433.82 469.10 L435.29 470.46 L436.76 471.82 L438.24 473.18 L439.71 474.54 L441.18 475.90 L442.65 477.26 L444.12 478.61 L445.59 479.97 L447.06 481.32 L448.53 482.68 L450.00 484.03 L451.47 485.38 L452.94 486.73 L454.41 488.08 L455.88 489.42 L457.35 490.77 L458.82 492.11 L460.29 493.46 L461.76 494.80 L463.24 496.14 L464.71 497.48 L466.18 498.82 L467.65 500.16 L469.12 501.50 L470.59 502.84 L472.06 504.17 L473.53 505.51 L475.00 506.84 L476.47 508.17 L477.94 509.50 L479.41 510.83 L480.88 512.16 L482.35 513.49 L483.82 514.81 L485.29 516.14 L486.76 517.46 L488.24 518.78 L489.71 520.10 L491.18 521.42 L492.65 522.74 L494.12 524.06 L495.59 525.38 L497.06 526.69 L498.53 528.01 L500.00 529.32 L501.47 530.63 L502.94 531.95 L504.41 533.26 L505.88 534.56 L507.35 535.87 L508.82 537.18 L510.29 538.48 L511.76 539.79 L513.24 541.09 L514.71 542.39 L516.18 543.69 L517.65 544.99 L519.12 546.29 L520.59 547.58 L522.06 548.88 L523.53 550.17 L525.00 551.47 L526.47 552.76 L527.94 554.05 L529.41 555.34 L530.88 556.62 L532.35 557.91 L533.82 559.20 L535.29 560.48 L536.76 561.76 L538.24 563.05 L539.71 564.33 L541.18 565.60 L542.65 566.88 L544.12 568.16 L545.59 569.43 L547.06 570.71 L548.53 571.98 L550.00 573.25 L551.47 574.52 L552.94 575.79 L554.41 577.06 L555.88 578.32 L557.35 579.59 L558.82 580.85 L560.29 582.11 L561.76 583.38 L563.24 584.63 L564.71 585.89 L566.18 587.15 L567.65 588.41 L569.12 589.66 L570.59 590.91 L572.06 592.16 L573.53 593.41 L575.00 594.66 L576.47 595.91 L577.94 597.16 L579.41 598.40 L580.88 599.64 L582.35 600.88 L583.82 602.13 L585.29 603.36 L586.76 604.60 L588.24 605.84 L589.71 607.07 L591.18 608.31 L592.65 609.54 L594.12 610.77 L595.59 612.00 L597.06 613.22 L598.53 614.45 L600.00 615.68 L601.47 616.90 L602.94 618.12 L604.41 619.34 L605.88 620.56 L607.35 621.78 L608.82 622.99 L610.29 624.21 L611.76 625.42 L613.24 626.63 L614.71 627.84 L616.18 629.05 L617.65 630.26 L619.12 631.46 L620.59 632.67 L622.06 633.87 L623.53 635.07 L625.00 636.27 L626.47 637.47 L627.94 638.66 L629.41 639.86 L630.88 641.05 L632.35 642.24 L633.82 643.43 L635.29 644.62 L636.76 645.81 L638.24 646.99 L639.71 648.18 L641.18 649.36 L642.65 650.54 L644.12 651.72 L645.59 652.89 L647.06 654.07 L648.53 655.24 L650.00 656.42 L651.47 657.59 L652.94 658.75 L654.41 659.92 L655.88 661.09 L657.35 662.25 L658.82 663.41 L660.29 664.58 L661.76 665.73 L663.24 666.89 L664.71 668.05 L666.18 669.20 L667.65 670.35 L669.12 671.50 L670.59 672.65 L672.06 673.80 L673.53 674.95 L675.00 676.09 L676.47 677.23 L677.94 678.37 L679.41 679.51 L680.88 680.65 L682.35 681.78 L683.82 682.91 L685.29 684.05 L686.76 685.17 L688.24 686.30 L689.71 687.43 L691.18 688.55 L692.65 689.68 L694.12 690.80 L695.59 691.91 L697.06 693.03 L698.53 694.15 L700.00 695.26 L701.47 696.37 L702.94 697.48 L704.41 698.59 L705.88 699.69 L707.35 700.80 L708.82 701.90 L710.29 703.00 L711.76 704.10 L713.24 705.20 L714.71 706.29 L716.18 707.38 L717.65 708.47 L719.12 709.56 L720.59 710.65 L722.06 711.73 L723.53 712.82 L725.00 713.90 L726.47 714.98 L727.94 716.05 L729.41 717.13 L730.88 718.20 L732.35 719.27 L733.82 720.34 L735.29 721.41 L736.76 722.47 L738.24 723.54 L739.71 724.60 L741.18 725.66 L742.65 726.72 L744.12 727.77 L745.59 728.82 L747.06 729.87 L748.53 730.92 L750.00 731.97 L751.47 733.02 L752.94 734.06 L754.41 735.10 L755.88 736.14 L757.35 737.17 L758.82 738.21 L760.29 739.24 L761.76 740.27 L763.24 741.30 L764.71 742.32 L766.18 743.35 L767.65 744.37 L769.12 745.39 L770.59 746.41 L772.06 747.42 L773.53 748.44 L775.00 749.45 L776.47 750.45 L777.94 751.46 L779.41 752.47 L780.88 753.47 L782.35 754.47 L783.82 755.46 L785.29 756.46 L786.76 757.45 L788.24 758.44 L789.71 759.43 L791.18 760.42 L792.65 761.40 L794.12 762.39 L795.59 763.37 L797.06 764.34 L798.53 765.32 L800.00 766.29 L801.47 767.26 L802.94 768.23 L804.41 769.19 L805.88 770.16 L807.35 771.12 L808.82 772.08 L810.29 773.03 L811.76 773.99 L813.24 774.94 L814.71 775.89 L816.18 776.84 L817.65 777.78 L819.12 778.72 L820.59 779.66 L822.06 780.60 L823.53 781.54 L825.00 782.47 L826.47 783.40 L827.94 784.33 L829.41 785.25 L830.88 786.17 L832.35 787.09 L833.82 788.01 L835.29 788.93 L836.76 789.84 L838.24 790.75 L839.71 791.66 L841.18 792.56 L842.65 793.47 L844.12 794.37 L845.59 795.27 L847.06 796.16 L848.53 797.05 L850.00 797.94 L851.47 798.83 L852.94 799.72 L854.41 800.60 L855.88 801.48 L857.35 802.36 L858.82 803.23 L860.29 804.11 L861.76 804.97 L863.24 805.84 L864.71 806.71 L866.18 807.57 L867.65 808.43 L869.12 809.28 L870.59 810.14 L872.06 810.99 L873.53 811.84 L875.00 812.68 L876.47 813.53 L877.94 814.37 L879.41 815.21 L880.88 816.04 L882.35 816.87 L883.82 817.70 L885.29 818.53 L886.76 819.36 L888.24 820.18 L889.71 821.00 L891.18 821.81 L892.65 822.63 L894.12 823.44 L895.59 824.24 L897.06 825.05 L898.53 825.85 L900.00 826.65 L901.47 827.45 L902.94 828.24 L904.41 829.03 L905.88 829.82 L907.35 830.61 L908.82 831.39 L910.29 832.17 L911.76 832.95 L913.24 833.72 L914.71 834.49 L916.18 835.26 L917.65 836.03 L919.12 836.79 L920.59 837.55 L922.06 838.31 L923.53 839.06 L925.00 839.81 L926.47 840.56 L927.94 841.30 L929.41 842.05 L930.88 842.79 L932.35 843.52 L933.82 844.26 L935.29 844.99 L936.76 845.71 L938.24 846.44 L939.71 847.16 L941.18 847.88 L942.65 848.59 L944.12 849.31 L945.59 850.02 L947.06 850.72 L948.53 851.43 L950.00 852.13 L951.47 852.82 L952.94 853.52 L954.41 854.21 L955.88 854.90 L957.35 855.58 L958.82 856.26 L960.29 856.94 L961.76 857.62 L963.24 858.29 L964.71 858.96 L966.18 859.63 L967.65 860.29 L969.12 860.95 L970.59 861.61 L972.06 862.26 L973.53 862.91 L975.00 863.56 L976.47 864.21 L977.94 864.85 L979.41 865.49 L980.88 866.12 L982.35 866.75 L983.82 867.38 L985.29 868.01 L986.76 868.63 L988.24 869.25 L989.71 869.87 L991.18 870.48 L992.65 871.09 L994.12 871.69 L995.59 872.30 L997.06 872.90 L998.53 873.49 L1000.00 874.09 L1001.47 874.68 L1002.94 875.26 L1004.41 875.85 L1005.88 876.43 L1007.35 877.00 L1008.82 877.58 L1010.29 878.15 L1011.76 878.71 L1013.24 879.28 L1014.71 879.84 L1016.18 880.39 L1017.65 880.95 L1019.12 881.50 L1020.59 882.04 L1022.06 882.59 L1023.53 883.13 L1025.00 883.66 L1026.47 884.19 L1027.94 884.72 L1029.41 885.25 L1030.88 885.77 L1032.35 886.29 L1033.82 886.81 L1035.29 887.32 L1036.76 887.83 L1038.24 888.34 L1039.71 888.84 L1041.18 889.34 L1042.65 889.83 L1044.12 890.32 L1045.59 890.81 L1047.06 891.30 L1048.53 891.78 L1050.00 892.26 L1051.47 892.73 L1052.94 893.20 L1054.41 893.67 L1055.88 894.13 L1057.35 894.59 L1058.82 895.05 L1060.29 895.50 L1061.76 895.95 L1063.24 896.40 L1064.71 896.84 L1066.18 897.28 L1067.65 897.72 L1069.12 898.15 L1070.59 898.58 L1072.06 899.00 L1073.53 899.42 L1075.00 899.84 L1076.47 900.25 L1077.94 900.66 L1079.41 901.07 L1080.88 901.47 L1082.35 901.87 L1083.82 902.27 L1085.29 902.66 L1086.76 903.05 L1088.24 903.43 L1089.71 903.82 L1091.18 904.19 L1092.65 904.57 L1094.12 904.94 L1095.59 905.30 L1097.06 905.67 L1098.53 906.03 L1100.00 906.38 L1101.47 906.73 L1102.94 907.08 L1104.41 907.42 L1105.88 907.76 L1107.35 908.10 L1108.82 908.43 L1110.29 908.76 L1111.76 909.09 L1113.24 909.41 L1114.71 909.73 L1116.18 910.04 L1117.65 910.35 L1119.12 910.66 L1120.59 910.96 L1122.06 911.26 L1123.53 911.56 L1125.00 911.85 L1126.47 912.14 L1127.94 912.42 L1129.41 912.70 L1130.88 912.98 L1132.35 913.25 L1133.82 913.52 L1135.29 913.78 L1136.76 914.04 L1138.24 914.30 L1139.71 914.55 L1141.18 914.80 L1142.65 915.05 L1144.12 915.29 L1145.59 915.53 L1147.06 915.76 L1148.53 915.99 L1150.00 916.22 L1151.47 916.44 L1152.94 916.66 L1154.41 916.87 L1155.88 917.08 L1157.35 917.29 L1158.82 917.49 L1160.29 917.69 L1161.76 917.89 L1163.24 918.08 L1164.71 918.27 L1166.18 918.45 L1167.65 918.63 L1169.12 918.80 L1170.59 918.97 L1172.06 919.14 L1173.53 919.30 L1175.00 919.46 L1176.47 919.62 L1177.94 919.77 L1179.41 919.92 L1180.88 920.06 L1182.35 920.20" stroke="#ff0000" stroke-width="3.6"/>
</g>
<g font-size="33" class="t">
<path transform="translate(60.0,2.6)" d="M3.7 0H7V23.3H3.6V7.2C2.7 8.6 1.5 9.6 0 10.1V7.1C1.7 6.3 2.9 4.6 3.7 0Z" fill="#111"/><text transform="translate(37.99,116.13) scale(0.615,1)" letter-spacing="3.25">0.9</text><text transform="translate(37.99,209.13) scale(0.615,1)" letter-spacing="3.25">0.8</text><text transform="translate(37.99,299.43) scale(0.615,1)" letter-spacing="3.25">0.7</text><text transform="translate(37.99,390.13) scale(0.615,1)" letter-spacing="3.25">0.6</text><text transform="translate(37.99,482.73) scale(0.615,1)" letter-spacing="3.25">0.5</text><text transform="translate(37.99,572.93) scale(0.615,1)" letter-spacing="3.25">0.4</text><text transform="translate(37.99,663.03) scale(0.615,1)" letter-spacing="3.25">0.3</text><text transform="translate(37.99,753.53) scale(0.615,1)" letter-spacing="3.25">0.2</text><text transform="translate(37.99,846.23) scale(0.615,1)" letter-spacing="3.25">0.</text><path transform="translate(59.2,822.6)" d="M3.7 0H7V23.3H3.6V7.2C2.7 8.6 1.5 9.6 0 10.1V7.1C1.7 6.3 2.9 4.6 3.7 0Z" fill="#111"/><text transform="translate(59.09,936.83) scale(0.615,1)" letter-spacing="3.25">0</text>
<text transform="translate(75.79,971.03) scale(0.615,1)" letter-spacing="3.25">0</text><text transform="translate(144.69,971.03) scale(0.615,1)" letter-spacing="3.25">0.</text><path transform="translate(165.9,947.4)" d="M3.7 0H7V23.3H3.6V7.2C2.7 8.6 1.5 9.6 0 10.1V7.1C1.7 6.3 2.9 4.6 3.7 0Z" fill="#111"/><text transform="translate(227.35,971.03) scale(0.615,1)" letter-spacing="3.25">0.2</text><text transform="translate(307.83,971.03) scale(0.615,1)" letter-spacing="3.25">0.3</text><text transform="translate(388.31,971.03) scale(0.615,1)" letter-spacing="3.25">0.4</text><text transform="translate(468.79,971.03) scale(0.615,1)" letter-spacing="3.25">0.5</text><text transform="translate(549.27,971.03) scale(0.615,1)" letter-spacing="3.25">0.6</text><text transform="translate(629.75,971.03) scale(0.615,1)" letter-spacing="3.25">0.7</text><text transform="translate(710.23,971.03) scale(0.615,1)" letter-spacing="3.25">0.8</text><text transform="translate(790.71,971.03) scale(0.615,1)" letter-spacing="3.25">0.9</text><path transform="translate(883.0,947.3)" d="M3.7 0H7V23.3H3.6V7.2C2.7 8.6 1.5 9.6 0 10.1V7.1C1.7 6.3 2.9 4.6 3.7 0Z" fill="#111"/>
</g>
<g fill="none" stroke="#000" stroke-width="2"><path d="M312.3 553.6L468.5 445"/></g>
<path d="M487 433.5L461 435.5L468.5 445L469 458.5Z" fill="#000"/>
<g font-size="34.5" class="b">
<text transform="translate(436.9,389.6) scale(0.67,1)">N</text>
<text transform="translate(456,405.2) scale(0.67,1)" font-size="30.6">t</text>
<text transform="translate(462.5,389.6) scale(0.67,1)" letter-spacing="1.04">=0.</text>
<path transform="translate(500.2,365.6)" d="M4.2 0H7.9V24H4.2V8.6C3.1 9.9 1.7 10.8 0.2 11.2V7.8C2 7 3.4 5 4.2 0Z" fill="#111"/>
<text transform="translate(510.9,389.6) scale(0.67,1)" letter-spacing="1.04">,0.3,0.5,0.7</text>
</g>
<g fill="none" stroke="#1a1a1a" stroke-width="1.6" stroke-linecap="round" stroke-linejoin="round">
<path stroke-width="2.6" d="M456.6 967.2L458.7 970.3"/>
<path stroke-width="1.8" d="M456.8 967.6C453.5 972.5 450 977.5 448.3 982.5"/>
<path stroke-width="2.9" stroke-linecap="butt" d="M448.3 982.5C447.4 986 447.4 989.5 447.6 992.4C448.6 994 451.8 994.2 453.6 995.4C455.3 996.8 455.2 999.8 454.4 1001.1C453 1002.4 450.4 1002.1 448.4 1001.6"/>
<ellipse cx="16.2" cy="494.8" rx="5.8" ry="10.9"/>
<path d="M2.5 486.6L25.5 500.3"/>
<path d="M0.6 455C3 460 7 464.5 12 465.4L28.2 465.9"/>
<path d="M1.2 430.8C1.8 429.2 2.6 428.4 4.2 428.4L18.8 428.6C22 429.6 25 433 27.4 436.4" stroke-width="1.9"/>
<path d="M5 433C4.6 437 4.7 439.2 6.5 441.6L13.3 449.5C15 451.5 16.5 452.6 18 452.4C20 452 21.5 450 22.3 446.3C23 444 24 442.5 24.8 441.6"/>
</g>
</svg>
</body></html>
